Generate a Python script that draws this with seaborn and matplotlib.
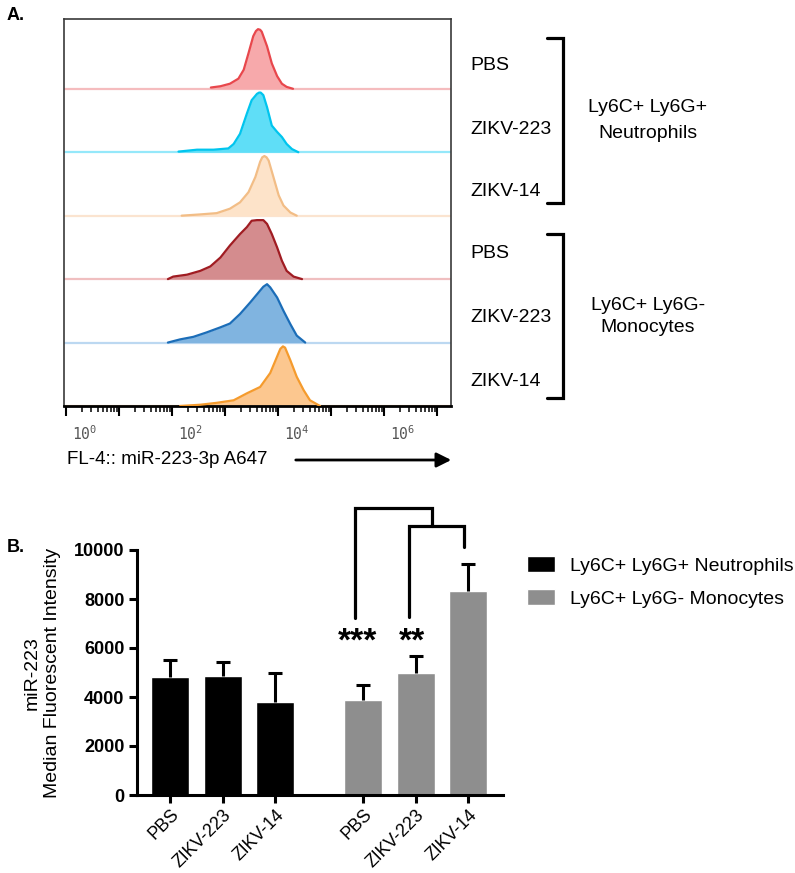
import numpy as np
import pandas as pd
import seaborn as sns
import matplotlib.pyplot as plt
import matplotlib.transforms as mtransforms
from matplotlib.lines import Line2D
from matplotlib.ticker import FixedLocator, LogLocator, NullFormatter

sns.set_theme(style='ticks')
plt.rcParams['font.family'] = ['Liberation Sans', 'DejaVu Sans']
plt.rcParams['text.color'] = 'black'
plt.rcParams['xtick.color'] = 'black'
plt.rcParams['ytick.color'] = 'black'

# ---- panel A: histograms (log10 fluorescence, height relative to row) ----
hist_samples = ['PBS', 'ZIKV-223', 'ZIKV-14', 'PBS', 'ZIKV-223', 'ZIKV-14']
hist_groups = ['Ly6C+ Ly6G+', 'Neutrophils', 'Ly6C+ Ly6G-', 'Monocytes']

neu_pbs_logx = [2.73, 2.91, 3.09, 3.25, 3.35, 3.44, 3.53, 3.58, 3.62, 3.66, 3.69, 3.79, 3.88, 3.98, 4.07, 4.16, 4.28]
neu_pbs_h = [0.02, 0.04, 0.08, 0.16, 0.30, 0.56, 0.83, 0.91, 0.94, 0.93, 0.90, 0.67, 0.40, 0.20, 0.08, 0.03, 0.0]

neu_z223_logx = [2.12, 2.47, 2.78, 3.06, 3.16, 3.28, 3.41, 3.50, 3.60, 3.64, 3.67, 3.72, 3.79, 3.88, 3.98, 4.07, 4.16, 4.26, 4.38]
neu_z223_h = [0.01, 0.04, 0.04, 0.06, 0.13, 0.29, 0.61, 0.82, 0.92, 0.94, 0.94, 0.90, 0.71, 0.42, 0.32, 0.24, 0.13, 0.05, 0.0]

neu_z14_logx = [2.18, 2.53, 2.84, 3.09, 3.28, 3.44, 3.57, 3.66, 3.70, 3.74, 3.78, 3.82, 3.91, 4.01, 4.10, 4.23, 4.35]
neu_z14_h = [0.0, 0.02, 0.04, 0.11, 0.21, 0.37, 0.61, 0.85, 0.92, 0.94, 0.92, 0.87, 0.61, 0.32, 0.16, 0.05, 0.0]

mono_pbs_logx = [1.92, 2.02, 2.28, 2.53, 2.72, 2.91, 3.09, 3.28, 3.41, 3.50, 3.60, 3.72, 3.79, 3.88, 3.98, 4.07, 4.16, 4.29, 4.45]
mono_pbs_h = [0.0, 0.04, 0.07, 0.13, 0.20, 0.34, 0.53, 0.71, 0.82, 0.92, 0.93, 0.93, 0.87, 0.71, 0.50, 0.29, 0.13, 0.04, 0.0]

mono_z223_logx = [1.92, 2.15, 2.40, 2.65, 2.91, 3.09, 3.28, 3.47, 3.63, 3.72, 3.79, 3.85, 3.98, 4.10, 4.23, 4.35, 4.51]
mono_z223_h = [0.0, 0.05, 0.09, 0.16, 0.24, 0.30, 0.45, 0.63, 0.79, 0.88, 0.92, 0.87, 0.71, 0.50, 0.29, 0.11, 0.0]

mono_z14_logx = [2.15, 2.53, 2.84, 3.16, 3.41, 3.66, 3.85, 3.98, 4.04, 4.09, 4.13, 4.23, 4.35, 4.48, 4.60, 4.79]
mono_z14_h = [0.0, 0.02, 0.05, 0.09, 0.20, 0.30, 0.52, 0.78, 0.90, 0.94, 0.92, 0.72, 0.46, 0.25, 0.09, 0.0]

hist_x = [neu_pbs_logx, neu_z223_logx, neu_z14_logx, mono_pbs_logx, mono_z223_logx, mono_z14_logx]
hist_h = [neu_pbs_h, neu_z223_h, neu_z14_h, mono_pbs_h, mono_z223_h, mono_z14_h]

line_cols = ['#e8474c', '#00c5ee', '#f2bd86', '#a01c22', '#1b6db8', '#f59b2d']
fill_cols = ['#f7a9ab', '#5fdef7', '#fde3c9', '#d48c8e', '#80b4e0', '#fcc78f']
base_cols = ['#f5bcbe', '#95e8fa', '#fbe4d0', '#f0bfc0', '#bcd8f1', '#fbd9b4']

# ---- panel B: median fluorescent intensity ----
bar_groups = ['Ly6C+ Ly6G+ Neutrophils'] * 3 + ['Ly6C+ Ly6G- Monocytes'] * 3
bar_labels = ['PBS', 'ZIKV-223', 'ZIKV-14', 'PBS', 'ZIKV-223', 'ZIKV-14']
bar_pos = [0, 1, 2, 3.67, 4.67, 5.67]
mfi_mean = [4830, 4870, 3800, 3865, 4980, 8310]
mfi_err = [700, 540, 1200, 635, 710, 1120]
sig_stars = ['***', '**']

W, H = 795, 873
def fx(px):
    return px / W
def fy(py):
    return 1 - py / H

fig = plt.figure(figsize=(7.95, 8.73), dpi=100)

# ----- panel A -----
axA = fig.add_axes([fx(64), fy(406), (451 - 64) / W, (406 - 19) / H])
axA.set_xscale('log')
n = len(hist_x)
for i in range(n):
    base = n - 1 - i
    xs = 10 ** np.array(hist_x[i])
    ys = base + np.array(hist_h[i])
    axA.axhline(base, color=base_cols[i], lw=1.6, zorder=1)
    axA.fill_between(xs, base, ys, color=fill_cols[i], lw=0, zorder=2)
    axA.plot(xs, ys, color=line_cols[i], lw=1.6, zorder=3, solid_joinstyle='round')

axA.set_xlim(10 ** -0.04, 10 ** 7.26)
axA.set_ylim(0, 6.1)
axA.set_yticks([])
axA.xaxis.set_major_locator(FixedLocator([10.0 ** k for k in range(8)]))
axA.xaxis.set_minor_locator(LogLocator(base=10, subs=np.arange(2, 10)))
axA.xaxis.set_minor_formatter(NullFormatter())
axA.set_xticklabels([r'$\mathtt{10}^{\mathtt{%d}}$' % k if k % 2 == 0 else '' for k in range(8)],
                    fontsize=10.5, color='#555555')
axA.tick_params(axis='x', which='major', length=7, width=1.5, direction='out', color='black', pad=6)
axA.tick_params(axis='x', which='minor', length=4, width=1.1, direction='out', color='black')
offset = mtransforms.ScaledTranslation(0.06, 0, fig.dpi_scale_trans)
for lab in axA.get_xticklabels():
    lab.set_horizontalalignment('left')
    lab.set_transform(lab.get_transform() + offset)
for s in ['top', 'left', 'right']:
    axA.spines[s].set_color('#3a3a3a')
    axA.spines[s].set_linewidth(1.2)
axA.spines['bottom'].set_color('black')
axA.spines['bottom'].set_linewidth(2)

fig.text(fx(67), fy(460), 'FL-4:: miR-223-3p A647', fontsize=13.5, va='center', ha='left')
axA.annotate('', xy=(fx(454), fy(460)), xytext=(fx(293), fy(460)), xycoords='figure fraction',
             textcoords='figure fraction',
             arrowprops=dict(arrowstyle='-|>', lw=2, color='black', mutation_scale=22))

fig.text(fx(7), fy(15), 'A.', fontsize=13, fontweight='bold', va='center')
fig.text(fx(7), fy(548), 'B.', fontsize=13, fontweight='bold', va='center')

label_y = [66, 130, 192, 253, 317, 382]
for lab, yy in zip(hist_samples, label_y):
    fig.text(fx(470), fy(yy), lab, fontsize=14, va='center', ha='left')

group_y = [108, 133, 305, 328]
for lab, yy in zip(hist_groups, group_y):
    fig.text(fx(648), fy(yy), lab, fontsize=14, va='center', ha='center')

for top, bot in [(38, 203), (234, 398)]:
    fig.add_artist(Line2D([fx(547), fx(563), fx(563), fx(547)], [fy(top), fy(top), fy(bot), fy(bot)],
                          transform=fig.transFigure, color='black', lw=2.3,
                          solid_joinstyle='miter'))

# ----- panel B -----
axB = fig.add_axes([fx(137), fy(795), (503 - 137) / W, (795 - 550) / H])
df = pd.DataFrame({'pos': bar_pos, 'mfi': mfi_mean, 'group': bar_groups})
sns.barplot(data=df, x='pos', y='mfi', hue='group', native_scale=True, dodge=False,
            palette=['#000000', '#8e8e8e'], width=0.73, saturation=1, errorbar=None, ax=axB)
# upper-only error bars
upper = np.array(mfi_mean) + np.array(mfi_err)
axB.vlines(bar_pos, mfi_mean, upper, color='black', lw=2.2, zorder=3)
axB.hlines(upper, np.array(bar_pos) - 0.13, np.array(bar_pos) + 0.13, color='black', lw=2.2, zorder=3)

axB.set_xlim(-0.63, 6.33)
axB.set_ylim(0, 10000)
axB.set_yticks(range(0, 10001, 2000))
axB.set_yticklabels([str(v) for v in range(0, 10001, 2000)], fontsize=13, fontweight='bold')
axB.set_xticks(bar_pos)
axB.set_xticklabels(bar_labels, rotation=45, ha='right', rotation_mode='anchor', fontsize=12.8)
axB.set_xlabel('')
axB.set_ylabel('')
axB.tick_params(axis='both', length=6, width=2.2, color='black', direction='out', pad=3)
axB.tick_params(axis='x', pad=2)
for s in ['top', 'right']:
    axB.spines[s].set_visible(False)
for s in ['left', 'bottom']:
    axB.spines[s].set_linewidth(2.2)
    axB.spines[s].set_color('black')

# significance brackets
axB.plot([3.52, 3.52, 4.98, 4.98], [7224, 11714, 11714, 10980], color='black', lw=2.3,
         clip_on=False, solid_joinstyle='miter')
axB.plot([4.54, 4.54, 5.59, 5.59], [7265, 10980, 10980, 10122], color='black', lw=2.3,
         clip_on=False, solid_joinstyle='miter')
axB.text(3.57, 5880, sig_stars[0], ha='center', va='baseline', fontsize=24, fontweight='bold')
axB.text(4.60, 5880, sig_stars[1], ha='center', va='baseline', fontsize=24, fontweight='bold')

fig.text(fx(32), fy(673), 'miR-223', rotation=90, fontsize=14, ha='center', va='center')
fig.text(fx(53), fy(673), 'Median Fluorescent Intensity', rotation=90, fontsize=14,
         ha='center', va='center')

handles, labels = axB.get_legend_handles_labels()
if axB.get_legend() is not None:
    axB.get_legend().remove()
fig.legend(handles, labels, loc='upper left', bbox_to_anchor=(fx(527), fy(556)),
           frameon=False, fontsize=14, handlelength=1.45, handleheight=0.9,
           handletextpad=0.75, labelspacing=0.72, borderaxespad=0, borderpad=0)

fig.savefig('out.png', dpi=100)
